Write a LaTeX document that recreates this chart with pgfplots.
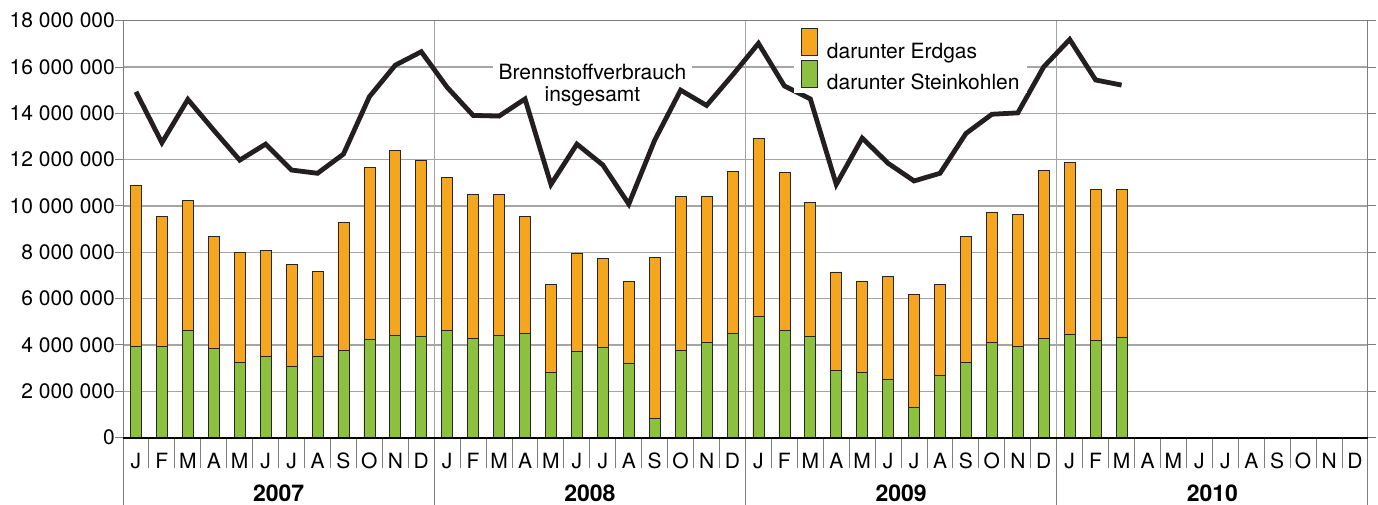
\documentclass[border=0pt]{standalone}
\usepackage{fontspec}
\setmainfont{TeX Gyre Heros}
\usepackage{pgfplots}
\pgfplotsset{compat=1.18}
\usepackage{pgfplotstable}
\definecolor{gas}{RGB}{246,165,30}
\definecolor{coal}{RGB}{140,193,63}
\definecolor{linec}{RGB}{35,31,32}
\definecolor{gridc}{RGB}{165,165,165}
\definecolor{framec}{RGB}{125,125,125}
\pgfplotsset{sqlegend/.style={legend image code/.code={\draw[##1] (0pt,-4.4pt) rectangle (16pt,22.8pt);}}}

% values in million units
\pgfplotstableread{
x  stein bar   total
0  3.95  10.90 14.93
1  3.92  9.56  12.73
2  4.61  10.23 14.60
3  3.84  8.67  13.27
4  3.25  8.01  11.98
5  3.51  8.08  12.67
6  3.09  7.46  11.55
7  3.52  7.16  11.41
8  3.75  9.27  12.24
9  4.24  11.65 14.72
10 4.41  12.38 16.08
11 4.35  11.95 16.66
12 4.64  11.23 15.12
13 4.30  10.51 13.91
14 4.41  10.51 13.88
15 4.50  9.56  14.62
16 2.80  6.61  10.93
17 3.70  7.95  12.67
18 3.89  7.72  11.77
19 3.22  6.73  10.08
20 0.83  7.76  12.84
21 3.78  10.40 15.00
22 4.12  10.43 14.34
23 4.50  11.49 15.65
24 5.25  12.90 17.02
25 4.64  11.46 15.18
26 4.38  10.17 14.62
27 2.91  7.15  10.93
28 2.83  6.76  12.93
29 2.53  6.97  11.84
30 1.32  6.17  11.08
31 2.67  6.60  11.41
32 3.23  8.67  13.13
33 4.09  9.71  13.96
34 3.92  9.64  14.02
35 4.27  11.55 16.01
36 4.47  11.88 17.19
37 4.18  10.73 15.44
38 4.33  10.73 15.22
}\data

\newcommand\fs{\fontsize{21pt}{21pt}\selectfont}
\newcommand\fy{\fontsize{23pt}{23pt}\selectfont\bfseries}

\begin{document}
\begin{tikzpicture}[x=1pt,y=1pt]
\useasboundingbox (0,0) rectangle (1378,504);
\begin{axis}[
  at={(123pt,66.5pt)}, anchor=south west,
  scale only axis, width=1245pt, height=416.8pt,
  xmin=-0.5, xmax=47.5, ymin=0, ymax=18,
  clip=false,
  axis line style={framec, line width=1pt},
  ytick={0,2,...,18},
  yticklabels={0,2 000 000,4 000 000,6 000 000,8 000 000,10 000 000,12 000 000,14 000 000,16 000 000,18 000 000},
  ymajorgrids, grid style={gridc, line width=1.3pt},
  ytick style={framec, line width=1pt},
  tick align=outside, major tick length=8pt, minor tick length=0pt,
  yticklabel style={font=\fs, inner sep=0pt, anchor=east},
  xtick={0,...,47},
  xticklabels={J,F,M,A,M,J,J,A,S,O,N,D,J,F,M,A,M,J,J,A,S,O,N,D,J,F,M,A,M,J,J,A,S,O,N,D,J,F,M,A,M,J,J,A,S,O,N,D},
  xtick style={draw=none},
  xticklabel style={font=\fs, anchor=base, inner sep=0pt, yshift=-22.5pt},
  minor xtick={11.5,23.5,35.5}, xminorgrids, minor grid style={gridc, line width=1.3pt},
  extra x ticks={5.5,17.5,29.5,41.5},
  extra x tick labels={2007,2008,2009,2010},
  extra x tick style={xmajorgrids=false, xticklabel style={font=\fy, yshift=-33pt}},
  legend style={draw=none, fill=white, at={(0.539,0.9873)}, anchor=north west,
    inner xsep=7pt, inner ysep=2pt, row sep=0pt, font=\fs,
    nodes={inner sep=0pt},
    /tikz/every odd column/.style={column sep=9pt}},
  legend cell align=left,
]
\addplot[ybar, bar width=11pt, bar shift=0pt, fill=gas, draw=black!85, line width=0.7pt, sqlegend]
  table[x=x, y=bar] {\data};
\addplot[ybar, bar width=11pt, bar shift=0pt, fill=coal, draw=black!85, line width=0.7pt, sqlegend]
  table[x=x, y=stein] {\data};
\legend{darunter Erdgas, darunter Steinkohlen}
\node[fill=white, inner xsep=5.5pt, inner ysep=2pt, font=\fs, anchor=base] at (axis cs:17.60,15.44) {Brennstoffverbrauch};
\node[font=\fs, anchor=base, inner sep=0pt] at (axis cs:17.60,14.53) {insgesamt};
\pgfplotsinvokeforeach{0,...,46}{\draw[framec, line width=1pt] (axis cs:#1+0.5,0) -- ++(0pt,-30pt);}
\pgfplotsinvokeforeach{-0.5,11.5,23.5,35.5,47.5}{\draw[framec, line width=1pt] (axis cs:#1,0) -- ++(0pt,-68pt);}
\draw[black, line width=2pt] (axis cs:-0.5,0) -- (axis cs:47.5,0);
\addplot[linec, line width=4.8pt, line join=miter, mark=none, forget plot] table[x=x, y=total] {\data};
\end{axis}
\end{tikzpicture}
\end{document}
